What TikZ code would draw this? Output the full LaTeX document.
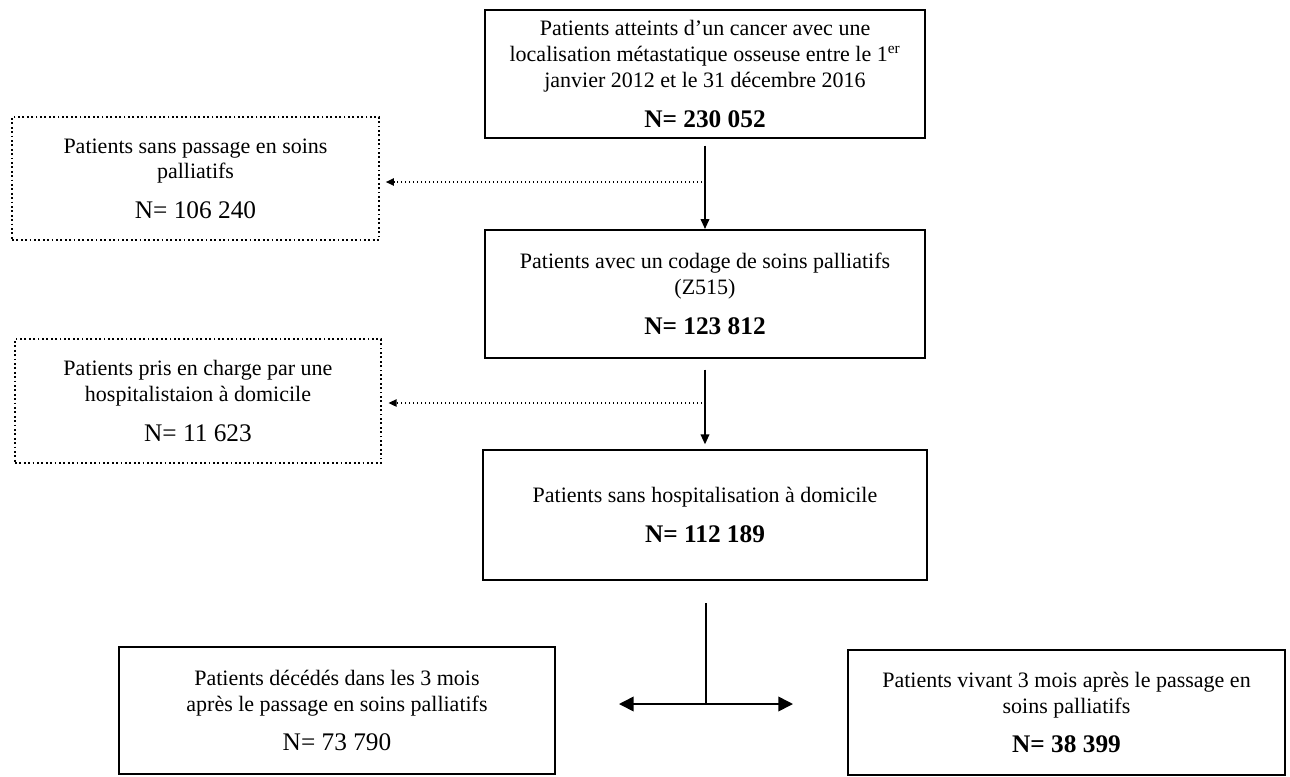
\documentclass[tikz,border=0pt]{standalone}
\usepackage{fontspec}
\setmainfont{Liberation Serif}
\usetikzlibrary{arrows.meta}
\newcommand\myBody{\fontsize{16.5}{19.5}\selectfont}
\newcommand\myN{\fontsize{19}{22}\selectfont}
\begin{document}
\begin{tikzpicture}[x=0.75pt,y=-0.75pt,
  solidbox/.style={draw, line width=1.5pt, rectangle, align=center, inner sep=0pt, font=\myBody},
  dotbox/.style={draw, line width=1.3pt, dotted, rectangle, align=center, inner sep=0pt, font=\myBody},
  arr/.style={line width=1.2pt, -{Triangle[length=7.5pt,width=6.5pt]}},
  dotarr/.style={line width=1pt, dotted, -{Triangle[length=6pt,width=5.5pt]}},
  bigarr/.style={line width=1.2pt, -{Triangle[length=11pt,width=11pt]}},
  plain/.style={line width=1.2pt}]
\useasboundingbox (0,0) rectangle (1290,776);

\node[solidbox, minimum width=440*0.75pt, minimum height=128*0.75pt] (top) at (705,74)
  {Patients atteints d’un cancer avec une\\localisation métastatique osseuse entre le 1\textsuperscript{er}\\janvier 2012 et le 31 décembre 2016\\[10pt]{\myN\bfseries N= 230 052}};

\node[solidbox, minimum width=440*0.75pt, minimum height=128*0.75pt] (b2) at (705,294)
  {Patients avec un codage de soins palliatifs\\(Z515)\\[10pt]{\myN\bfseries N= 123 812}};

\node[solidbox, minimum width=444*0.75pt, minimum height=130*0.75pt] (b3) at (705,515)
  {Patients sans hospitalisation à domicile\\[10pt]{\myN\bfseries N= 112 189}};

\node[dotbox, minimum width=367*0.75pt, minimum height=123*0.75pt] (l1) at (195.5,178.5)
  {Patients sans passage en soins\\palliatifs\\[10pt]{\myN N= 106 240}};

\node[dotbox, minimum width=366*0.75pt, minimum height=124*0.75pt] (l2) at (198,401)
  {Patients pris en charge par une\\hospitalistaion à domicile\\[10pt]{\myN N= 11 623}};

\node[solidbox, minimum width=436*0.75pt, minimum height=127*0.75pt] (bl) at (337,710.5)
  {Patients décédés dans les 3 mois\\après le passage en soins palliatifs\\[10pt]{\myN N= 73 790}};

\node[solidbox, minimum width=437*0.75pt, minimum height=125*0.75pt] (br) at (1066.5,712.5)
  {Patients vivant 3 mois après le passage en\\soins palliatifs\\[10pt]{\myN\bfseries N= 38 399}};

% main vertical arrows
\draw[arr, shorten <=5pt] (top.south) -- (b2.north);
\draw[arr, shorten <=8pt, shorten >=3.5pt] (b2.south) -- (b3.north);

% dotted side arrows
\coordinate (d1) at (706,182);
\coordinate (d2) at (706,403);
\draw[dotarr, shorten >=4.5pt] (d1) -- (d1 -| l1.east);
\draw[dotarr, shorten >=5pt] (d2) -- (d2 -| l2.east);

% bottom split
\coordinate (vs) at (706,603);
\coordinate (vj) at (706,704);
\coordinate (hl) at (619,704);
\coordinate (hr) at (793,704);
\draw[plain] (vs) -- (vj);
\draw[bigarr] (vj) -- (hl);
\draw[bigarr] (vj) -- (hr);
\end{tikzpicture}
\end{document}
